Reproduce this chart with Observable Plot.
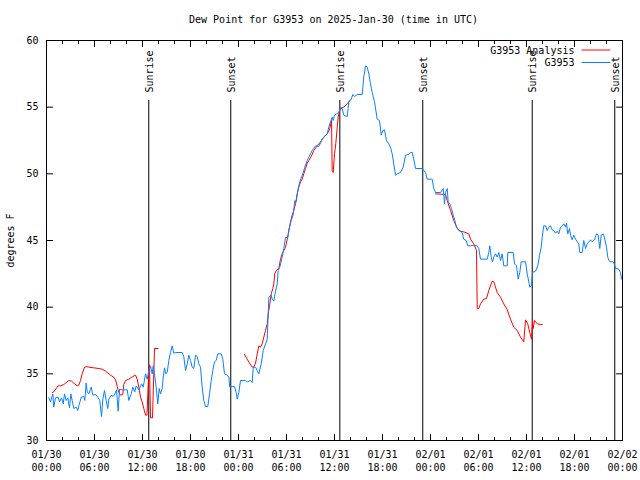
<!DOCTYPE html>
<html><head><meta charset="utf-8">
<script src="https://cdn.jsdelivr.net/npm/d3@7"></script>
<script src="https://cdn.jsdelivr.net/npm/@observablehq/plot@0.6"></script>
<style>body{margin:0;background:#fff} svg{display:block}</style>
</head><body><div id="chart"></div>
<script>
const title = "Dew Point for G3953 on 2025-Jan-30 (time in UTC)";
const yLabel = "degrees F";
const seriesNames = ["G3953 Analysis", "G3953"];
const seriesColors = ["#ff0000", "#0a80ff"];
const startUTC = "2025-01-30T00:00:00Z";
const endUTC = "2025-02-02T00:00:00Z";
const xTickHours = [0, 6, 12, 18, 24, 30, 36, 42, 48, 54, 60, 66, 72];
const xTickLabels = ["01/30\n00:00","01/30\n06:00","01/30\n12:00","01/30\n18:00","01/31\n00:00","01/31\n06:00","01/31\n12:00","01/31\n18:00","02/01\n00:00","02/01\n06:00","02/01\n12:00","02/01\n18:00","02/02\n00:00"];
const xMinorHours = [2,4,8,10,14,16,20,22,26,28,32,34,38,40,44,46,50,52,56,58,62,64,68,70];
const yTicks = [30, 35, 40, 45, 50, 55, 60];
const yDomain = [30, 60];
const sunLabels = ["Sunrise", "Sunset", "Sunrise", "Sunset", "Sunrise", "Sunset"];
const sunTimes = ["2025-01-30T12:47Z", "2025-01-30T23:02Z", "2025-01-31T12:40Z", "2025-01-31T23:02Z", "2025-02-01T12:43Z", "2025-02-01T23:02Z"];

// G3953 observations: hours since start, dew point (F)
const obsHours = [0.29,0.5,0.79,0.91,1.13,1.46,1.63,1.88,2.09,2.25,
2.46,2.66,2.88,3.04,3.21,3.41,3.71,3.91,4.04,4.34,
4.66,4.79,4.96,5.09,5.29,5.59,5.79,6.13,6.41,6.66,
6.88,7.04,7.25,7.46,7.66,7.79,8.09,8.34,8.54,8.75,
8.96,9.13,9.46,10.09,10.29,10.59,10.79,11.04,11.21,11.54,
11.88,12.09,12.38,12.59,12.79,13.0,13.21,13.34,13.5,13.71,
13.91,14.09,14.25,14.46,14.59,14.75,14.91,15.09,15.29,15.5,
15.71,15.91,16.13,16.96,17.16,17.38,17.59,17.79,18.0,18.21,
18.41,18.63,18.84,19.04,19.25,19.46,19.66,19.88,20.16,20.38,
20.59,20.79,21.0,21.21,21.41,21.84,22.04,22.25,22.59,22.79,
22.91,23.21,23.5,23.71,23.84,24.04,24.25,24.88,25.09,25.5,
25.71,25.84,26.13,26.34,26.54,26.84,27.09,27.38,27.59,27.79,
28.09,28.21,28.41,28.63,28.84,28.96,29.16,29.46,29.66,29.88,
30.16,30.34,30.59,30.84,31.04,31.21,31.41,31.66,31.88,32.04,
32.29,32.59,32.79,33.0,33.21,33.63,34.04,34.46,34.88,35.09,
35.29,35.5,35.71,35.84,36.0,36.25,36.54,36.75,36.96,37.16,
37.59,37.79,38.09,38.29,38.5,38.84,39.46,39.66,39.88,40.09,
40.29,40.5,40.71,41.0,41.34,41.63,41.84,42.04,42.25,42.5,
42.79,43.0,43.21,43.41,43.63,43.84,44.25,44.59,44.88,45.29,
45.5,45.71,45.91,46.13,46.96,47.38,47.59,48.0,48.21,48.41,
48.63,49.25,49.59,49.75,49.88,50.09,50.21,50.41,50.63,50.84,
51.04,51.25,51.54,51.96,52.16,52.46,52.66,53.0,53.41,53.84,
54.04,54.25,55.09,55.29,55.41,55.59,55.75,55.91,56.13,56.34,
56.54,56.75,56.96,57.16,57.59,57.66,58.34,58.5,58.75,58.96,
59.16,59.34,59.88,60.09,60.29,60.41,60.63,60.75,61.13,61.41,
61.63,61.84,61.96,62.16,62.38,62.59,62.79,63.0,63.21,63.41,
63.63,63.84,64.04,64.25,64.46,64.66,64.88,65.0,65.16,65.38,
65.5,65.71,65.91,66.13,66.34,66.54,66.66,66.96,67.16,67.38,
67.59,67.79,68.0,68.21,68.5,68.75,68.96,69.16,69.34,69.59,
69.75,70.0,70.16,70.29,70.5,70.84,71.0,71.13,71.54,71.75,71.88];
const obsDew = [33.2,32.9,33.5,32.5,33.2,33.25,32.9,33.2,32.75,33.5,
33.0,33.2,32.45,33.5,33.0,32.4,32.5,32.25,32.6,33.25,
33.3,33.0,34.3,33.65,33.5,34.0,33.4,33.45,33.25,33.0,
31.8,33.1,33.75,33.0,32.4,33.1,33.4,33.3,33.5,33.8,
32.2,33.85,33.8,33.8,33.0,33.5,34.0,33.65,34.1,33.8,
34.25,34.0,35.0,34.6,35.25,35.6,35.0,35.6,35.0,34.0,
32.75,33.9,33.5,33.9,34.75,35.45,35.0,35.1,36.0,36.6,
37.1,36.55,36.6,36.6,36.3,35.25,35.75,36.4,36.0,35.5,
35.4,36.4,36.3,35.75,35.5,34.0,33.0,32.55,32.55,33.5,
34.5,35.25,35.9,36.0,36.5,36.5,36.1,35.0,34.9,34.75,
34.0,34.05,34.05,33.6,33.1,33.6,34.5,34.5,34.4,34.5,
34.35,35.5,35.5,35.25,35.0,35.75,36.75,37.25,37.6,40.75,
40.9,40.6,40.45,41.2,41.75,42.75,43.0,43.75,44.4,45.25,
45.2,45.9,46.5,46.95,48.0,47.9,48.75,49.4,49.75,50.0,
50.5,51.0,51.25,51.5,51.75,52.1,52.05,52.6,52.9,53.0,
53.5,53.9,54.25,54.0,54.4,54.5,54.6,55.0,54.9,54.4,
54.3,55.4,55.6,55.95,55.8,55.95,55.95,57.25,58.1,58.0,
57.5,56.75,56.1,55.4,54.1,54.0,52.9,53.25,53.3,52.5,
52.25,52.0,51.5,50.75,49.9,50.0,50.1,50.5,51.4,51.45,
51.6,51.6,51.1,50.4,50.4,50.1,49.6,49.6,49.6,48.9,
48.6,48.6,48.9,47.75,48.6,48.9,47.9,47.75,47.4,46.9,
46.5,46.0,45.75,45.6,45.1,45.0,44.6,44.6,44.65,44.6,
44.4,43.6,43.6,44.1,44.6,43.75,43.4,43.75,44.0,43.75,
44.1,43.5,44.0,43.1,43.1,44.1,44.1,43.25,43.1,42.1,
42.6,43.4,43.4,42.5,41.9,41.5,41.6,42.6,42.7,43.1,
43.9,44.5,45.25,46.1,46.1,45.75,46.0,46.1,45.8,45.75,
45.55,45.7,45.5,46.0,46.1,46.25,46.0,46.3,45.5,45.9,
45.4,45.05,45.4,45.1,44.9,44.75,44.1,44.1,45.0,44.4,
44.75,44.9,45.05,44.9,45.05,45.5,45.4,44.4,45.4,45.5,
45.2,44.5,43.75,43.5,43.4,43.4,43.2,42.9,42.85,42.6,42.1];

// G3953 Analysis: three separate segments
const anaHours1 = [0.71,0.91,1.21,1.46,1.75,2.16,2.38,2.79,3.13,3.41,
3.84,4.04,4.25,4.46,4.75,5.09,5.29,5.91,6.54,6.96,
7.38,7.59,8.0,8.41,8.63,8.84,9.04,9.25,9.54,9.66,
9.88,10.29,10.79,11.13,11.34,11.54,11.75,11.96,12.16,12.38,
12.56,12.81,12.88,13.0,13.25,13.5,13.94];
const anaDew1 = [33.6,33.65,33.9,34.1,34.1,34.2,34.3,34.5,34.45,34.3,
34.1,34.15,34.5,35.0,35.5,35.55,35.5,35.45,35.4,35.35,
35.2,35.1,34.9,34.75,34.55,34.05,33.6,33.4,33.45,34.2,
34.5,34.6,34.8,34.9,34.6,34.0,33.25,32.9,32.4,31.9,
31.9,35.7,35.5,31.7,31.7,36.9,36.9];
const anaHours2 = [24.75,25.09,25.38,25.71,25.91,26.13,26.34,26.54,26.75,26.96,
27.16,27.38,27.59,27.71,27.88,28.09,28.29,28.41,28.54,28.71,
29.04,29.25,29.46,29.66,29.88,30.09,30.29,30.5,30.71,30.91,
31.13,31.34,31.54,31.75,31.96,32.16,32.38,32.59,32.79,33.09,
33.41,33.84,34.25,34.66,35.09,35.41,35.63,35.71,35.84,36.0,
36.16,36.34,36.46,36.63,36.75,37.16,37.59,37.91];
const anaDew2 = [36.45,36.1,35.8,35.5,35.5,35.8,36.5,37.1,37.0,37.25,
37.75,38.25,38.75,39.5,40.1,41.0,41.4,41.75,42.5,42.75,
42.9,43.6,44.0,44.25,44.5,45.1,45.75,46.4,46.9,47.25,
47.75,48.5,49.0,49.4,49.6,50.0,50.4,50.8,51.0,51.3,
51.75,52.1,52.4,52.75,53.0,53.4,54.0,50.25,50.1,51.5,
52.25,53.5,54.25,54.75,54.9,55.0,55.25,55.5];
const anaHours3 = [48.63,49.88,50.09,50.5,50.91,51.34,51.75,52.16,52.79,53.0,
53.41,53.75,53.84,54.04,54.25,54.66,55.0,55.29,55.71,55.91,
56.34,56.75,57.16,57.59,58.0,58.41,58.84,59.25,59.66,59.88,
60.16,60.41,60.63,60.75,60.84,61.0,61.34,61.75,61.96];
const anaDew3 = [48.5,48.45,48.0,47.25,46.5,45.9,45.7,45.65,45.5,45.1,
44.75,44.25,39.9,39.9,40.25,40.6,40.65,41.25,41.95,41.9,
41.1,40.75,40.25,39.8,39.1,38.5,38.25,37.75,37.4,39.05,
38.75,38.1,37.6,39.0,38.4,39.0,38.75,38.7,38.7];

const t0 = Date.parse(startUTC);
const toDate = h => new Date(t0 + h * 3600e3);
const obs = obsHours.map((h, i) => ({t: toDate(h), v: obsDew[i]}));
const ana = [[anaHours1, anaDew1], [anaHours2, anaDew2], [anaHours3, anaDew3]]
  .flatMap(([hs, vs], s) => hs.map((h, i) => ({t: toDate(h), v: vs[i], seg: s})));
const sun = sunTimes.map((s, i) => ({t: new Date(s), label: sunLabels[i]}));
const majorDates = xTickHours.map(toDate);
const minorDates = xMinorHours.map(toDate);
const labelMap = new Map(majorDates.map((d, i) => [+d, xTickLabels[i]]));

const FONT = "DejaVu Sans Mono";
const tickShape = {draw(ctx, l) { ctx.moveTo(0, 0); ctx.lineTo(0, -l); }};
const tickOpts = {shape: tickShape, anchor: "start", stroke: "black", strokeWidth: 1};

const chart = Plot.plot({
  width: 640, height: 480,
  marginLeft: 46, marginRight: 18, marginTop: 40, marginBottom: 40,
  style: {fontFamily: FONT, fontSize: "10px", color: "black", background: "white"},
  x: {type: "utc", domain: [new Date(startUTC), new Date(endUTC)]},
  y: {domain: yDomain},
  marks: [
    Plot.frame({stroke: "black", strokeWidth: 1}),
    // inward ticks (gnuplot style), mirrored
    Plot.vector(majorDates, {x: d => d, frameAnchor: "bottom", rotate: 0, length: 6, ...tickOpts}),
    Plot.vector(minorDates, {x: d => d, frameAnchor: "bottom", rotate: 0, length: 3, ...tickOpts}),
    Plot.vector(majorDates, {x: d => d, frameAnchor: "top", rotate: 180, length: 6, ...tickOpts}),
    Plot.vector(minorDates, {x: d => d, frameAnchor: "top", rotate: 180, length: 3, ...tickOpts}),
    Plot.vector(yTicks, {y: d => d, frameAnchor: "left", rotate: 90, length: 6, ...tickOpts}),
    Plot.vector(yTicks, {y: d => d, frameAnchor: "right", rotate: -90, length: 6, ...tickOpts}),
    Plot.axisX(majorDates, {anchor: "bottom", tickSize: 0, tickPadding: 9, label: null,
      tickFormat: d => labelMap.get(+d), lineHeight: 1.25, fontSize: 10, fontFamily: FONT}),
    Plot.axisY(yTicks, {anchor: "left", tickSize: 0, tickPadding: 8, label: null,
      tickFormat: d => String(d), fontSize: 10, fontFamily: FONT}),
    // sunrise / sunset
    Plot.ruleX(sun, {x: "t", insetTop: 60, stroke: "black", strokeWidth: 1}),
    Plot.text(sun, {x: "t", text: "label", frameAnchor: "top", dy: 52, dx: 1, rotate: -90,
      textAnchor: "start", lineAnchor: "middle", fontSize: 10, fontFamily: FONT, fill: "black"}),
    // series
    Plot.line(ana, {x: "t", y: "v", z: "seg", stroke: seriesColors[0], strokeWidth: 1}),
    Plot.line(obs, {x: "t", y: "v", stroke: seriesColors[1], strokeWidth: 1}),
    // legend
    Plot.text([seriesNames[0]], {text: d => d, frameAnchor: "top-right", dx: -48, dy: 10,
      textAnchor: "end", lineAnchor: "middle", fontSize: 10, fontFamily: FONT, fill: "black"}),
    Plot.text([seriesNames[1]], {text: d => d, frameAnchor: "top-right", dx: -48, dy: 22.5,
      textAnchor: "end", lineAnchor: "middle", fontSize: 10, fontFamily: FONT, fill: "black"}),
    Plot.vector([seriesNames[0]], {frameAnchor: "top-right", dx: -40.5, dy: 9.5, rotate: 90, length: 28,
      shape: tickShape, anchor: "start", stroke: seriesColors[0], strokeWidth: 1}),
    Plot.vector([seriesNames[1]], {frameAnchor: "top-right", dx: -40.5, dy: 22, rotate: 90, length: 28,
      shape: tickShape, anchor: "start", stroke: seriesColors[1], strokeWidth: 1}),
    // title and y label
    Plot.text([title], {text: d => d, frameAnchor: "top", dy: -21, dx: -1, textAnchor: "middle",
      lineAnchor: "middle", fontSize: 10, fontFamily: FONT, fill: "black"}),
    Plot.text([yLabel], {text: d => d, frameAnchor: "left", dx: -36, rotate: -90, textAnchor: "middle",
      lineAnchor: "middle", fontSize: 10, fontFamily: FONT, fill: "black"})
  ]
});
document.getElementById("chart").appendChild(chart);
</script>
</body></html>
